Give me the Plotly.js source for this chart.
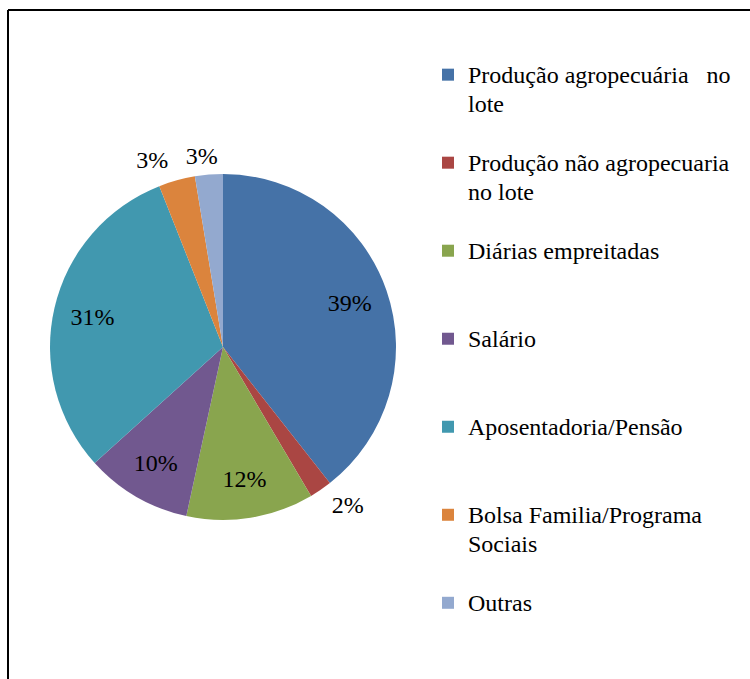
<!DOCTYPE html>
<html>
<head>
<meta charset="utf-8">
<script src="https://cdn.plot.ly/plotly-3.0.1.min.js"></script>
<style>html,body{margin:0;padding:0;background:#fff;}#chart{width:750px;height:679px;}</style>
</head>
<body>
<div id="chart"></div>
<script>
const categories = [
  "Produção agropecuária&nbsp;&nbsp;&nbsp;no<br>lote",
  "Produção não agropecuaria<br>no lote",
  "Diárias empreitadas",
  "Salário",
  "Aposentadoria/Pensão",
  "Bolsa Familia/Programa<br>Sociais",
  "Outras"
];
const shares = [39.4, 2.1, 11.9, 9.9, 30.7, 3.4, 2.6];
const colors = ["#4572A7", "#AA4643", "#89A54E", "#71588F", "#4198AF", "#DB843D", "#93A9CF"];
// which label goes on which text layer
const insideLabels  = [true, false, true, true, true, false, false];
const outsideLabels = [false, true, false, false, false, true, false];
const outsideLabels2 = [false, false, false, false, false, false, true];

const FONT = "Liberation Serif";
const W = 750, H = 679;
const dom = {x: [50 / W, 396 / W], y: [1 - 520 / H, 1 - 174 / H]};
const domOut = {x: [42 / W, 404 / W], y: [1 - 528 / H, 1 - 166 / H]};
const domOut2 = {x: [58 / W, 420 / W], y: [1 - 530 / H, 1 - 168 / H]};
const clear = shares.map(() => "rgba(0,0,0,0)");

// pad every legend entry (but the last) to three lines so entries are evenly spaced
const legendLabels = categories.map((c, i) => {
  const n = c.split("<br>").length;
  let s = '<span style="font-size:24px">' + c.split("<br>").join('</span><br><span style="font-size:24px">') + '</span>';
  if (i < categories.length - 1) for (let k = n; k < 3; k++) s += "<br>&nbsp;";
  return s;
});

const base = {
  type: "pie",
  labels: legendLabels,
  values: shares,
  sort: false,
  direction: "clockwise",
  rotation: 0,
  domain: dom,
  hoverinfo: "skip"
};

const pieTrace = Object.assign({}, base, {
  marker: {colors: colors, line: {color: "#ffffff", width: 0}},
  textinfo: "none",
  showlegend: true
});

function textLayer(mask, pos, hole, domain) {
  return Object.assign({}, base, {
    hole: hole,
    domain: domain,
    marker: {colors: clear, line: {width: 0}},
    texttemplate: "%{percent:.0%}",
    textposition: pos,
    insidetextorientation: "horizontal",
    textfont: {family: FONT, size: 24, color: mask.map(m => m ? "#000" : "rgba(0,0,0,0)")},
    showlegend: false
  });
}

const layout = {
  width: W, height: H,
  margin: {l: 0, r: 0, t: 0, b: 0},
  paper_bgcolor: "#fff",
  font: {family: FONT},
  showlegend: true,
  legend: {
    x: 428 / W, xanchor: "left",
    y: 1 - 54 / H, yanchor: "top",
    valign: "top",
    font: {family: FONT, size: 21.8, color: "#000"},
    bgcolor: "rgba(0,0,0,0)"
  },
  shapes: [
    {type: "line", xref: "paper", yref: "paper", x0: 8 / W, x1: 1, y0: 1 - 10 / H, y1: 1 - 10 / H, line: {color: "#000", width: 2}},
    {type: "line", xref: "paper", yref: "paper", x0: 8 / W, x1: 8 / W, y0: 0, y1: 1 - 10 / H, line: {color: "#000", width: 2}}
  ]
};

Plotly.newPlot("chart", [
  pieTrace,
  textLayer(insideLabels, "inside", 0.55, dom),
  textLayer(outsideLabels, outsideLabels.map(m => m ? "outside" : "none"), 0, domOut),
  textLayer(outsideLabels2, outsideLabels2.map(m => m ? "outside" : "none"), 0, domOut2)
], layout, {displayModeBar: false, staticPlot: true});
</script>
</body>
</html>
